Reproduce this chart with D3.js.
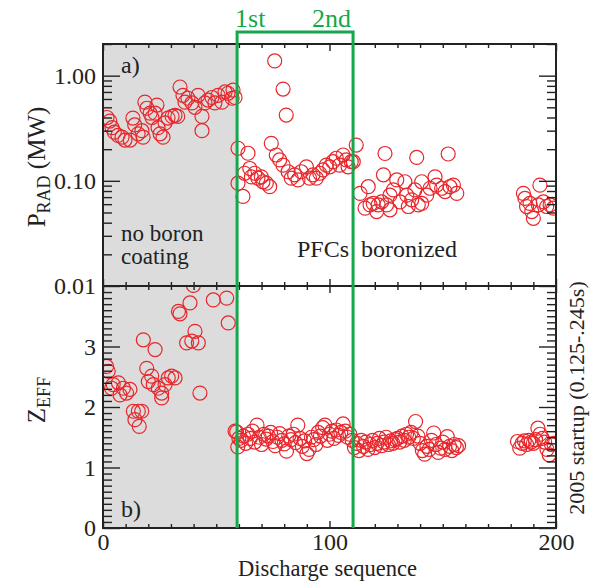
<!DOCTYPE html>
<html><head><meta charset="utf-8">
<script src="https://cdn.jsdelivr.net/npm/d3@7"></script>
<style>body{margin:0;background:#fff}svg{display:block}text{font-family:"Liberation Serif","Times New Roman",serif;fill:#222}</style>
</head><body><svg id="c" width="594" height="582"></svg>
<script>
// ---------- data ----------
const boronizations = [59.2, 110.4];           // discharge numbers of 1st / 2nd boronization
const boronLabels = ["1st", "2nd"];
const xTickLabels = [0, 100, 200];
const pradTickLabels = [0.01, 0.1, 1];
const zeffTickLabels = [0, 1, 2, 3];

// P_RAD (MW) vs discharge
const pradShot = [1.8,3,4,5,6.6,8.4,9.7,12,13.2,14,15.5,17.2,17.7,18.5,19.4,20.8,21.6,23,23.8,24.3,25.2,26.5,27.4,28.7,30.5,31.8,33,34,35.3,36.2,37.5,39.3,40.6,42,43.7,43.7,45,46.4,48.1,49.4,50.8,52.5,53.9,55.2,57,57.4,58.3,
  59.6,59.6,61.8,62.5,64,64.8,65.5,67,68.4,69.9,70.6,72.1,73.6,74.3,75.8,76.5,78,79.5,79.5,80.9,81.7,83.1,84.6,86.1,87.5,89.8,91.2,92.7,94.2,95.7,97.1,98.6,100.1,101.5,103,104.5,106,107.4,108.2,109.6,110.5,111.8,
  113.5,115.7,117.1,117.9,119.3,120.8,121.5,123,123.8,124.5,125.2,126.7,126.7,128.2,129.7,131.1,133.3,134.1,134.8,136.3,137.7,138.5,139.2,140.7,140.7,142.9,144.4,146.6,147.3,149.5,151,152.4,153.2,154.7,156.2,
  185.6,186.3,187,188.5,189.3,190,192.2,192.9,194.4,195.9,197.4,198.8];
const pradVal = [0.40,0.37,0.32,0.29,0.27,0.26,0.244,0.244,0.395,0.34,0.28,0.30,0.26,0.56,0.49,0.44,0.40,0.44,0.525,0.32,0.28,0.26,0.355,0.395,0.41,0.42,0.41,0.78,0.65,0.56,0.61,0.55,0.50,0.65,0.41,0.30,0.55,0.586,0.62,0.55,0.65,0.56,0.70,0.68,0.61,0.73,0.62,
  0.204,0.095,0.071,0.118,0.183,0.131,0.109,0.118,0.106,0.109,0.098,0.095,0.088,0.227,1.38,0.176,0.158,0.746,0.141,0.422,0.122,0.106,0.114,0.102,0.122,0.136,0.106,0.114,0.106,0.118,0.127,0.141,0.136,0.152,0.164,0.141,0.176,0.158,0.136,0.152,0.152,0.219,
  0.076,0.055,0.088,0.059,0.061,0.051,0.059,0.063,0.114,0.182,0.059,0.053,0.073,0.082,0.102,0.063,0.098,0.073,0.057,0.066,0.082,0.167,0.059,0.098,0.061,0.073,0.085,0.109,0.091,0.085,0.079,0.180,0.088,0.091,0.076,
  0.076,0.068,0.057,0.061,0.051,0.044,0.059,0.091,0.063,0.057,0.059,0.055];

// Z_EFF vs discharge
const zeffShot = [1.6,2.3,3.8,4.5,6.8,7.5,9,10.4,11.9,13.4,14.1,15.6,16,17.1,17.8,19.3,20,21.5,22.2,23,24.4,25.9,25.9,27.4,28.8,30.3,31.8,33.3,34,36.9,38.4,39.2,39.9,40.6,42.1,42.8,48.7,54.6,55.3,58.3,
  59,59.5,60,61,62,63,64,65,66,67,68,69,70,71,72,73,74,75,76,77,78,79,80,81,82,83,84,85,86,87,88,89,90,91,92,93,94,95,96,97,98,99,100,101,102,103,104,105,106,107,108,109,110,
  111,112,113,114,115,116,117,118,119,120,121,122,123,124,125,126,127,128,129,130,131,132,133,134,135,136,137,138,139,140,141,142,143,144,145,146,147,148,149,150,151,152,153,154,155,156,157,
  183,184,185,186,187,188,189,190,191,192,193,194,195,196,197,198,199];
const zeffVal = [2.67,2.59,2.31,2.37,2.40,2.20,2.31,2.23,2.29,1.93,1.79,1.93,1.68,1.93,3.11,2.64,2.42,2.51,2.37,2.95,2.31,2.23,2.15,2.37,2.48,2.51,2.48,3.58,3.54,3.06,3.72,3.09,4.01,3.25,3.06,2.23,3.77,3.80,3.39,1.60,
  1.59,1.34,1.48,1.45,1.52,1.40,1.55,1.48,1.60,1.42,1.70,1.50,1.38,1.55,1.47,1.52,1.58,1.43,1.36,1.50,1.56,1.45,1.39,1.27,1.52,1.46,1.55,1.41,1.70,1.48,1.35,1.44,1.23,1.30,1.50,1.46,1.38,1.58,1.52,1.66,1.70,1.45,1.55,1.60,1.48,1.62,1.53,1.58,1.72,1.60,1.50,1.55,1.45,
  1.33,1.40,1.28,1.45,1.35,1.42,1.30,1.38,1.45,1.33,1.40,1.48,1.36,1.42,1.50,1.38,1.44,1.40,1.46,1.48,1.42,1.52,1.45,1.55,1.50,1.58,1.48,1.76,1.52,1.40,1.28,1.22,1.35,1.30,1.45,1.57,1.38,1.25,1.32,1.42,1.30,1.51,1.35,1.28,1.38,1.33,1.36,
  1.43,1.32,1.40,1.44,1.38,1.45,1.42,1.40,1.46,1.65,1.55,1.48,1.42,1.30,1.21,1.38,1.40];

// ---------- layout ----------
const L = 103, R = 556, T1 = 44, B1 = 286, T2 = 286, B2 = 528, GTOP = 32;
const red = "#e8262b", green = "#14a84a", grey = "#dcdcdc";
const svg = d3.select("#c");
const x = d3.scaleLinear().domain([0, 200]).range([L, R]);
const y1 = d3.scaleLog().domain([0.01, 2]).range([B1, T1]);
const y2 = d3.scaleLinear().domain([0, 4]).range([B2, T2]);

const defs = svg.append("defs");
defs.append("clipPath").attr("id", "cp1").append("rect").attr("x", L).attr("y", T1).attr("width", R - L).attr("height", B1 - T1);
defs.append("clipPath").attr("id", "cp2").append("rect").attr("x", L).attr("y", T2).attr("width", R - L).attr("height", B2 - T2);

// grey shading (no boron)
svg.append("rect").attr("x", x(0)).attr("y", T1).attr("width", x(boronizations[0]) - x(0)).attr("height", B2 - T1).attr("fill", grey);

// points
const p1 = pradShot.map((s, i) => [s, pradVal[i]]);
const p2 = zeffShot.map((s, i) => [s, zeffVal[i]]);
svg.append("g").attr("clip-path", "url(#cp1)").selectAll("circle").data(p1).join("circle")
  .attr("cx", d => x(d[0])).attr("cy", d => y1(d[1])).attr("r", 7).attr("fill", "none").attr("stroke", red).attr("stroke-width", 1.2);
svg.append("g").attr("clip-path", "url(#cp2)").selectAll("circle").data(p2).join("circle")
  .attr("cx", d => x(d[0])).attr("cy", d => y2(d[1])).attr("r", 7).attr("fill", "none").attr("stroke", red).attr("stroke-width", 1.2);

// axes helpers
const minorX = d3.range(0, 201, 10);
function xAxis(gen, ypos, dir) {
  svg.append("g").attr("transform", `translate(0,${ypos})`).call(gen(x).tickValues(minorX.filter(v => v % 100)).tickSize(dir * 4).tickFormat(""));
  svg.append("g").attr("transform", `translate(0,${ypos})`).call(gen(x).tickValues([0, 100, 200]).tickSize(dir * 7).tickFormat(""));
}
xAxis(d3.axisBottom, T1, 1);
xAxis(d3.axisTop, B1, 1);
xAxis(d3.axisBottom, T2, 1);
// bottom axis with labels
svg.append("g").attr("transform", `translate(0,${B2})`).call(d3.axisTop(x).tickValues(minorX.filter(v => v % 100)).tickSize(4).tickFormat(""));
svg.append("g").attr("class", "xl").attr("transform", `translate(0,${B2})`).call(d3.axisBottom(x).tickValues(xTickLabels).tickSize(-7).tickPadding(5).tickFormat(d3.format("d")));

// y1 ticks
const minor1 = [];
[0.01, 0.1, 1].forEach(d => { for (let k = 2; k <= 9; k++) { const v = d * k; if (v <= 2.0001) minor1.push(v); } });
svg.append("g").attr("transform", `translate(${L},0)`).call(d3.axisLeft(y1).tickValues(minor1).tickSize(-9).tickFormat(""));
svg.append("g").attr("class", "yl").attr("transform", `translate(${L},0)`).call(d3.axisLeft(y1).tickValues(pradTickLabels).tickSize(-17).tickPadding(7).tickFormat(d3.format(".2f")));
svg.append("g").attr("transform", `translate(${R},0)`).call(d3.axisRight(y1).tickValues(minor1).tickSize(-9).tickFormat(""));
svg.append("g").attr("transform", `translate(${R},0)`).call(d3.axisRight(y1).tickValues(pradTickLabels).tickSize(-17).tickFormat(""));

// y2 ticks
const minor2 = d3.range(0, 40).map(i => i / 10).filter((v, i) => i % 10);
svg.append("g").attr("transform", `translate(${L},0)`).call(d3.axisLeft(y2).tickValues(minor2).tickSize(-9).tickFormat(""));
svg.append("g").attr("class", "yl").attr("transform", `translate(${L},0)`).call(d3.axisLeft(y2).tickValues(zeffTickLabels).tickSize(-17).tickPadding(7).tickFormat(d3.format("d")));
svg.append("g").attr("transform", `translate(${R},0)`).call(d3.axisRight(y2).tickValues(minor2).tickSize(-9).tickFormat(""));
svg.append("g").attr("transform", `translate(${R},0)`).call(d3.axisRight(y2).tickValues(zeffTickLabels).tickSize(-17).tickFormat(""));

svg.selectAll(".domain").remove();
svg.selectAll(".tick line").attr("stroke", "#222").attr("stroke-width", 1.4);
svg.selectAll(".tick text").attr("font-family", "Liberation Serif").attr("font-size", 24).attr("fill", "#222");
svg.selectAll(".yl .tick text").attr("dy", "0.33em");

// frames
[[T1, B1], [T2, B2]].forEach(([t, b]) => svg.append("rect").attr("x", L).attr("y", t).attr("width", R - L).attr("height", b - t).attr("fill", "none").attr("stroke", "#222").attr("stroke-width", 2));

// green boronization box
const gx0 = x(boronizations[0]), gx1 = x(boronizations[1]);
svg.append("path").attr("d", `M${gx0},${B2}V${GTOP}H${gx1}V${B2}`).attr("fill", "none").attr("stroke", green).attr("stroke-width", 3);
svg.append("text").attr("x", gx0 - 2).attr("y", 27).attr("font-size", 26).style("fill", green).text(boronLabels[0]);
svg.append("text").attr("x", gx1 - 2).attr("y", 27).attr("text-anchor", "end").attr("font-size", 26).style("fill", green).text(boronLabels[1]);

// annotations
const ann = (tx, ty, s, fs, anchor) => svg.append("text").attr("x", tx).attr("y", ty).attr("font-size", fs).attr("text-anchor", anchor || "start").text(s);
ann(121, 73, "a)", 24);
ann(121, 517, "b)", 24);
ann(121, 241, "no boron", 23);
ann(121, 264, "coating", 23);
ann(297, 257, "PFCs", 24);
ann(361, 257, "boronized", 24);
ann((L + R) / 2 - 2, 576, "Discharge sequence", 22.5, "middle");

// axis titles
const t1 = svg.append("text").attr("transform", "translate(45,167) rotate(-90)").attr("text-anchor", "middle").attr("font-size", 25);
t1.append("tspan").text("P");
t1.append("tspan").attr("font-size", 18).attr("dy", 5).text("RAD");
t1.append("tspan").attr("dy", -5).text(" (MW)");
const t2 = svg.append("text").attr("transform", "translate(45,400) rotate(-90)").attr("text-anchor", "middle").attr("font-size", 25);
t2.append("tspan").text("Z");
t2.append("tspan").attr("font-size", 18).attr("dy", 5).text("EFF");
svg.append("text").attr("transform", "translate(584,398) rotate(-90)").attr("text-anchor", "middle").attr("font-size", 22).text("2005 startup (0.125-.245s)");
</script></body></html>
